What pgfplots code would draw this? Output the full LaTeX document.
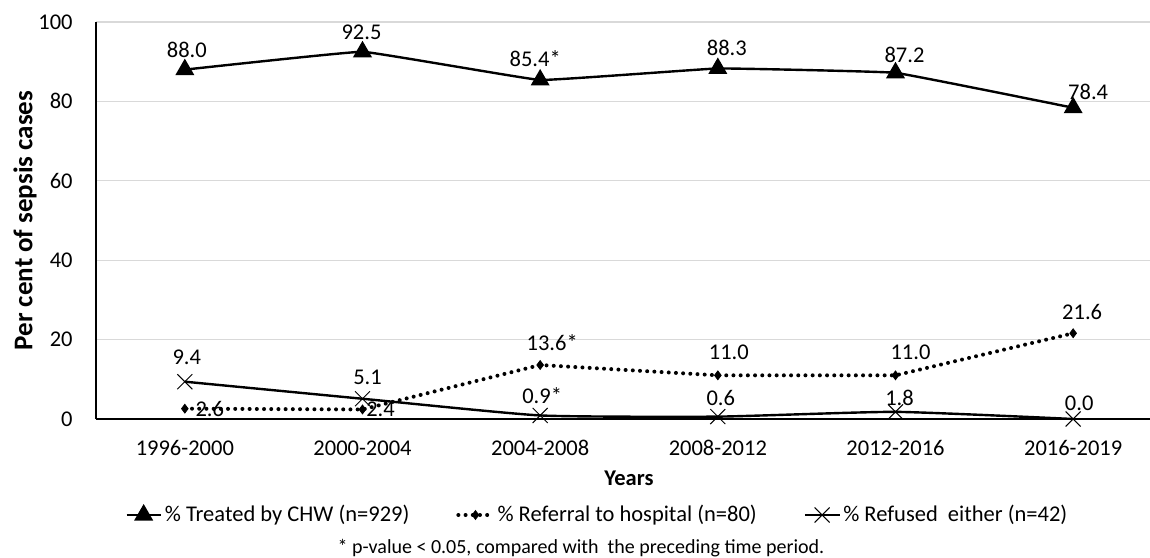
\documentclass[border=0pt]{standalone}
\usepackage{fontspec}
\setmainfont{Carlito}
\usepackage{pgfplots}
\pgfplotsset{compat=1.18}
\usepackage{pgfplotstable}

\definecolor{gridgray}{HTML}{D9D9D9}

% x = period index, y = per cent, lab = data label, dx/dy = label offset (pt)
\pgfplotstableread{
x y lab dx dy
0 88.0 88.0 1 9.8
1 92.5 92.5 -0.5 9.6
2 85.4 85.4* -2.5 10.5
3 88.3 88.3 4.5 10.5
4 87.2 87.2 4.5 9
5 78.4 78.4 7.5 8
}\treated

\pgfplotstableread{
x y lab dx dy
0 2.6 2.6 12.5 0
1 2.4 2.4 9 0
2 13.6 13.6* 6 11
3 11.0 11.0 5.5 11.5
4 11.0 11.0 7.5 11.5
5 21.6 21.6 4.5 10.5
}\referral

\pgfplotstableread{
x y lab dx dy
0 9.4 9.4 1 12
1 5.1 5.1 2.5 10.5
2 0.9 0.9* 1 10
3 0.6 0.6 1.5 9.3
4 1.8 1.8 2 7
5 0.0 0.0 3 8
}\refused

\newcommand{\lblfont}{\fontsize{11.25}{13}\selectfont}

\begin{document}
\begin{tikzpicture}
\begin{axis}[
  name=ax,
  scale only axis, width=533pt, height=198.5pt,
  xmin=-0.5, xmax=5.5, ymin=0, ymax=100,
  axis x line=bottom, axis y line=left,
  axis line style={-, black, line width=0.6pt},
  xtick={0,...,5}, ytick={0,20,...,100},
  xticklabels={1996-2000,2000-2004,2004-2008,2008-2012,2012-2016,2016-2019},
  major tick length=0pt,
  ymajorgrids, grid style={gridgray, line width=0.6pt},
  tick label style={font=\lblfont},
  /pgf/number format/assume math mode=true,
  yticklabel style={anchor=east, inner sep=0pt, xshift=-11.5pt},
  xticklabel style={anchor=center, inner sep=0pt, yshift=-14.5pt},
  xlabel={Years},
  xlabel style={at={(axis description cs:0.5,-0.1486)}, anchor=center, font=\lblfont\bfseries},
  ylabel={Per cent of sepsis cases},
  ylabel style={at={(axis description cs:-0.0666,0.5)}, anchor=center, font=\fontsize{13.5}{16}\selectfont\bfseries},
  legend columns=3, legend cell align=left,
  legend style={at={(axis description cs:0.0272,-0.2418)}, anchor=west, draw=none, fill=none,
    inner sep=0pt, font=\lblfont, nodes={inner sep=1.5pt},
    /tikz/every even column/.append style={column sep=22pt}},
  point meta=explicit symbolic,
  nodes near coords,
  visualization depends on={\thisrow{dx} \as \dx},
  visualization depends on={\thisrow{dy} \as \dy},
  nodes near coords style={anchor=center, xshift=\dx pt, yshift=\dy pt, font=\lblfont, inner sep=0pt, black},
]
\addplot[black, line width=1.2pt, smooth, tension=0.12, mark=triangle*, mark size=4.3pt]
  table[x=x, y=y, meta=lab]{\treated};
\addlegendentry{\% Treated by CHW (n=929)}
\addplot[black, line width=2pt, line cap=round, dash pattern=on 0pt off 3.6pt,
  mark=diamond*, mark size=2.2pt, mark options={solid, line width=0.4pt}]
  table[x=x, y=y, meta=lab]{\referral};
\addlegendentry{\% Referral to hospital (n=80)}
\addplot[black, line width=1.2pt, smooth, tension=0.3, mark=x, mark size=5.3pt,
  mark options={line width=0.5pt}]
  table[x=x, y=y, meta=lab]{\refused};
\addlegendentry{\% Refused~~either (n=42)}
\end{axis}
\node[font=\fontsize{10}{12}\selectfont, xshift=242.5pt, yshift=-64.5pt] at (ax.south west)
  {* p-value < 0.05, compared with~ the preceding time period.};
\pgfresetboundingbox
\path[use as bounding box] (-48pt,-69pt) rectangle (527pt,209.5pt);
\end{tikzpicture}
\end{document}
